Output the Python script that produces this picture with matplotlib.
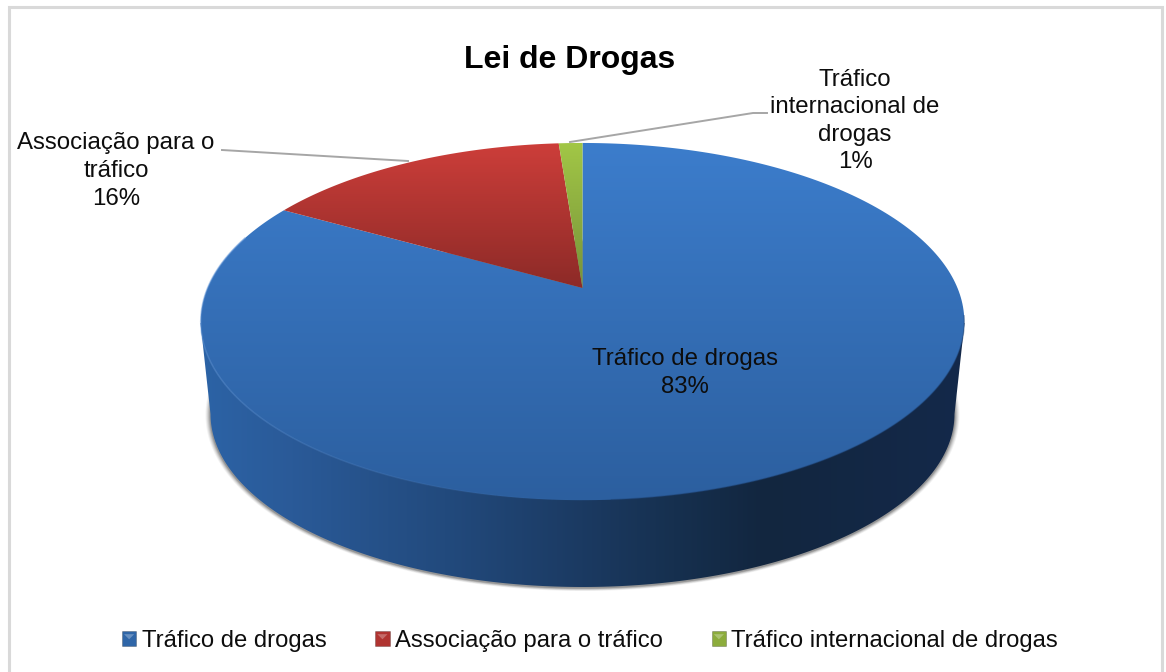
import numpy as np
import matplotlib
matplotlib.use("Agg")
import matplotlib.pyplot as plt
from matplotlib.colors import LinearSegmentedColormap
from matplotlib.legend_handler import HandlerBase
from matplotlib.patches import Patch, Polygon, Rectangle

plt.rcParams["font.family"] = ["Liberation Sans", "DejaVu Sans"]

title = "Lei de Drogas"
categories = ["Tráfico de drogas", "Associação para o tráfico", "Tráfico internacional de drogas"]
wrapped_names = ["Tráfico de drogas", "Associação para o\ntráfico", "Tráfico\ninternacional de\ndrogas"]
values = [83.2, 15.6, 1.2]

# top and bottom colour of each slice
top_colors = [("#3c7dcc", "#2c5f9f"), ("#cd3e3a", "#8c2a27"), ("#a2c746", "#76923a")]
legend_colors = ["#2f66a8", "#b03431", "#8cac3c"]
side_stops = [(0.0, "#2c63a6"), (0.12, "#2a5a98"), (0.32, "#224a7d"), (0.5, "#1b3a62"),
              (0.62, "#16304f"), (0.74, "#12263f"), (1.0, "#14294a")]

# pie geometry in picture pixels (perspective of a flat disc)
cx, apex_y = 582.5, 288
persp, ry, rx = 0.188, 172.3, 375
low_cy, low_ry, low_rx = 414, 173, 372


def disc_xy(theta):
    # theta clockwise from 12 o'clock
    u, v = np.sin(theta), np.cos(theta)
    w = 1 + persp * v
    return cx + rx * u / w, apex_y - ry * v / w


def gradient(ax, clip, extent, colors, horizontal=False, z=2):
    cmap = LinearSegmentedColormap.from_list("g", colors)
    g = np.linspace(0, 1, 256)
    g = g[None, :] if horizontal else g[:, None]
    im = ax.imshow(g, extent=extent, cmap=cmap, aspect="auto", zorder=z, interpolation="bilinear")
    clip.set_transform(ax.transData)
    im.set_clip_path(clip)


class BevelHandler(HandlerBase):
    def create_artists(self, legend, orig, xd, yd, w, h, fontsize, trans):
        fc = orig.get_facecolor()
        s = w
        y0 = (h - s) / 2 - yd
        box = Rectangle((0, y0), s, s, facecolor=fc, edgecolor=(0, 0, 0, 0.25), lw=0.6, transform=trans)
        tri = Polygon([(1.5, y0 + s - 2), (s - 1.5, y0 + s - 2), (s / 2, y0 + s * 0.45)],
                      facecolor=(1, 1, 1, 0.28), edgecolor="none", transform=trans)
        return [box, tri]


fig = plt.figure(figsize=(11.66, 6.72), dpi=100)
ax = fig.add_axes([0, 0, 1, 1])

# chart frame, runs off the bottom of the picture
ax.add_patch(Rectangle((9, 7), 1153, 680, facecolor="white", edgecolor="#d9d9d9", lw=2.2, zorder=0))

# soft shadow under the wall
full = np.linspace(0, 2 * np.pi, 400)
for grow, a in [(5, 0.05), (4, 0.07), (3, 0.09), (2, 0.12), (1, 0.16)]:
    sx = cx + (low_rx + grow) * np.cos(full)
    sy = low_cy + 1 + (low_ry + grow * 0.6) * np.sin(full)
    ax.add_patch(Polygon(np.column_stack([sx, sy]), facecolor="#000000", alpha=a, edgecolor="none", zorder=1))

# front wall of the disc
low = np.linspace(0, np.pi, 200)
lx, ly = cx + low_rx * np.cos(low), low_cy + low_ry * np.sin(low)
wall = np.vstack([np.column_stack([lx, ly]), [[200.5, 323]], [[964.5, 323]]])
gradient(ax, Polygon(wall), (200, 965, 600, 300), side_stops, horizontal=True, z=2)

# top face, one slice per value
shares = np.array(values) / sum(values)
edges = np.concatenate([[0], np.cumsum(shares)]) * 2 * np.pi
for i in range(len(values)):
    t = np.linspace(edges[i], edges[i + 1], 300)
    x, y = disc_xy(t)
    pts = np.vstack([[[cx, apex_y]], np.column_stack([x, y])])
    y_low = y.max() if i == 0 else apex_y
    c0, c1 = top_colors[i]
    gradient(ax, Polygon(pts), (pts[:, 0].min() - 1, pts[:, 0].max() + 1, y_low + 1, 142), [c0, c1], z=3)

# light rim on the lower left fading out towards the bottom
t = np.linspace(np.pi * 1.6, np.pi * 1.0, 61)
x, y = disc_xy(t)
for j in range(60):
    ax.plot(x[j:j + 2], y[j:j + 2], color="#6f9fdc", lw=1.1, alpha=0.6 * (1 - j / 60), zorder=4,
            solid_capstyle="butt")
t = np.linspace(np.pi * 0.55, np.pi * 0.98, 200)
x, y = disc_xy(t)
ax.plot(x, y, color="#1d3f6e", lw=1.0, alpha=0.4, zorder=4)

# leader lines
ax.plot([222, 408], [150, 161], color="#a6a6a6", lw=1.4, zorder=5)
ax.plot([570, 753, 767], [142, 113, 113], color="#a6a6a6", lw=1.4, zorder=5)

# data labels
label_pos = [(685, 373), (116, 171), (855, 121)]
for name, val, (lx0, ly0) in zip(wrapped_names, values, label_pos):
    ax.text(lx0, ly0, f"{name}\n{val:.0f}%", ha="center", va="center", fontsize=17.3,
            color="#0d0d0d", linespacing=1.33, zorder=6)

ax.text(570, 60, title, ha="center", va="center", fontsize=23, fontweight="bold", color="black", zorder=6)

handles = [Patch(facecolor=c, label=n) for c, n in zip(legend_colors, categories)]
ax.legend(handles=handles, ncol=3, loc="center", bbox_to_anchor=(590, 641), bbox_transform=ax.transData,
          frameon=False, fontsize=17.2, handlelength=0.6, handleheight=0.6, handletextpad=0.22,
          columnspacing=2.05, labelcolor="#0d0d0d", borderpad=0, borderaxespad=0,
          handler_map={Patch: BevelHandler()})

ax.set_xlim(0, 1166)
ax.set_ylim(672, 0)
ax.axis("off")
fig.savefig("out.png", dpi=100)
